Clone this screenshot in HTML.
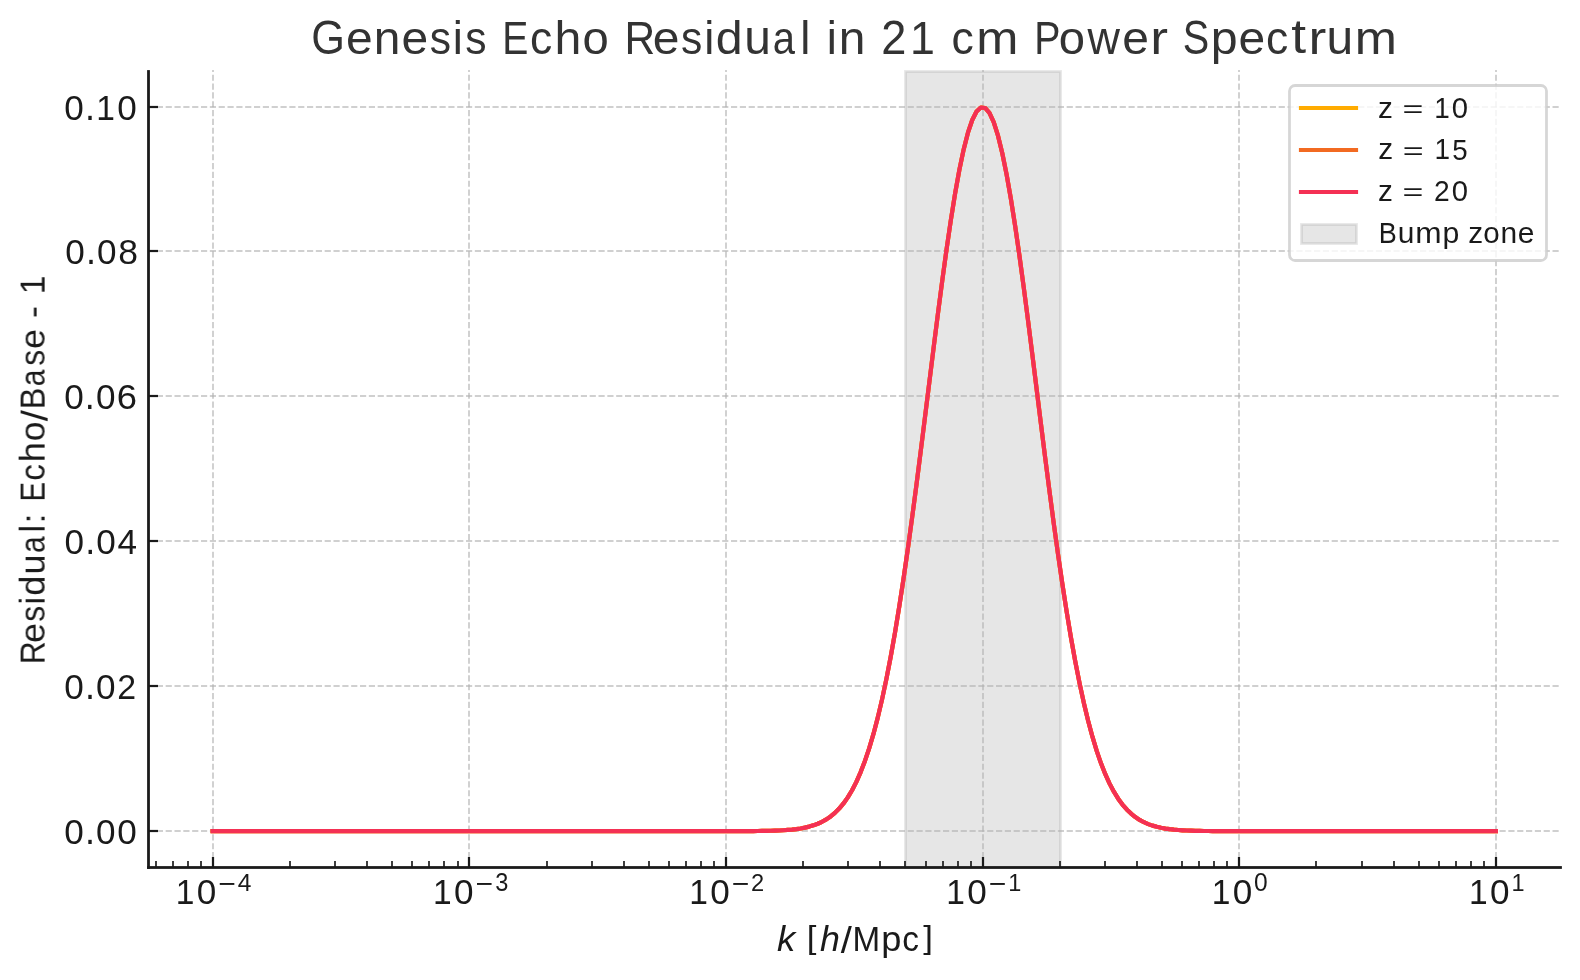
<!DOCTYPE html>
<html><head><meta charset="utf-8"><title>Genesis Echo Residual in 21 cm Power Spectrum</title>
<style>
html,body{margin:0;padding:0;background:#ffffff;width:1580px;height:980px;overflow:hidden}
svg{display:block}
text{font-family:"Liberation Sans",sans-serif}
</style></head><body>
<svg width="1580" height="980" viewBox="0 0 1580 980">
<rect width="1580" height="980" fill="#ffffff"/>
<rect x="905.5" y="71.5" width="155" height="796" fill="#808080" fill-opacity="0.2" stroke="#808080" stroke-opacity="0.2" stroke-width="2.78"/>
<path d="M213 867V70M469 867V70M726 867V70M983 867V70M1239 867V70M1496 867V70" fill="none" stroke="#b0b0b0" stroke-opacity="0.7" stroke-width="1.67" stroke-dasharray="6.1667 2.6667"/>
<path d="M148 831H1560M148 686H1560M148 541H1560M148 396H1560M148 251H1560M148 107H1560" fill="none" stroke="#b0b0b0" stroke-opacity="0.8" stroke-width="1.67" stroke-dasharray="6.1667 2.6667"/>
<path d="M211.889 857h2.222v10h-2.222zM467.889 857h2.222v10h-2.222zM724.889 857h2.222v10h-2.222zM981.889 857h2.222v10h-2.222zM1237.889 857h2.222v10h-2.222zM1494.889 857h2.222v10h-2.222zM148 830h10v2h-10zM148 685h10v2h-10zM148 540h10v2h-10zM148 395h10v2h-10zM148 250h10v2h-10zM148 106h10v2h-10z" fill="#1a1a1a"/>
<path d="M148 829h10v1h-10zM148 832h10v1h-10zM148 684h10v1h-10zM148 687h10v1h-10zM148 539h10v1h-10zM148 542h10v1h-10zM148 394h10v1h-10zM148 397h10v1h-10zM148 249h10v1h-10zM148 252h10v1h-10zM148 105h10v1h-10zM148 108h10v1h-10z" fill="#1a1a1a" fill-opacity="0.11"/>
<path d="M155.167 861h1.667v6h-1.667zM172.167 861h1.667v6h-1.667zM187.167 861h1.667v6h-1.667zM200.167 861h1.667v6h-1.667zM289.167 861h1.667v6h-1.667zM334.167 861h1.667v6h-1.667zM366.167 861h1.667v6h-1.667zM391.167 861h1.667v6h-1.667zM411.167 861h1.667v6h-1.667zM428.167 861h1.667v6h-1.667zM443.167 861h1.667v6h-1.667zM457.167 861h1.667v6h-1.667zM546.167 861h1.667v6h-1.667zM591.167 861h1.667v6h-1.667zM623.167 861h1.667v6h-1.667zM648.167 861h1.667v6h-1.667zM668.167 861h1.667v6h-1.667zM685.167 861h1.667v6h-1.667zM700.167 861h1.667v6h-1.667zM713.167 861h1.667v6h-1.667zM802.167 861h1.667v6h-1.667zM847.167 861h1.667v6h-1.667zM879.167 861h1.667v6h-1.667zM904.167 861h1.667v6h-1.667zM925.167 861h1.667v6h-1.667zM942.167 861h1.667v6h-1.667zM957.167 861h1.667v6h-1.667zM970.167 861h1.667v6h-1.667zM1059.167 861h1.667v6h-1.667zM1104.167 861h1.667v6h-1.667zM1136.167 861h1.667v6h-1.667zM1161.167 861h1.667v6h-1.667zM1181.167 861h1.667v6h-1.667zM1198.167 861h1.667v6h-1.667zM1213.167 861h1.667v6h-1.667zM1226.167 861h1.667v6h-1.667zM1315.167 861h1.667v6h-1.667zM1361.167 861h1.667v6h-1.667zM1393.167 861h1.667v6h-1.667zM1418.167 861h1.667v6h-1.667zM1438.167 861h1.667v6h-1.667zM1455.167 861h1.667v6h-1.667zM1470.167 861h1.667v6h-1.667zM1483.167 861h1.667v6h-1.667z" fill="#1a1a1a"/>
<polyline points="212.60,831.15 216.89,831.15 221.18,831.15 225.48,831.15 229.77,831.15 234.06,831.15 238.35,831.15 242.64,831.15 246.93,831.15 251.23,831.15 255.52,831.15 259.81,831.15 264.10,831.15 268.39,831.15 272.69,831.15 276.98,831.15 281.27,831.15 285.56,831.15 289.85,831.15 294.14,831.15 298.44,831.15 302.73,831.15 307.02,831.15 311.31,831.15 315.60,831.15 319.90,831.15 324.19,831.15 328.48,831.15 332.77,831.15 337.06,831.15 341.35,831.15 345.65,831.15 349.94,831.15 354.23,831.15 358.52,831.15 362.81,831.15 367.11,831.15 371.40,831.15 375.69,831.15 379.98,831.15 384.27,831.15 388.56,831.15 392.86,831.15 397.15,831.15 401.44,831.15 405.73,831.15 410.02,831.15 414.31,831.15 418.61,831.15 422.90,831.15 427.19,831.15 431.48,831.15 435.77,831.15 440.07,831.15 444.36,831.15 448.65,831.15 452.94,831.15 457.23,831.15 461.52,831.15 465.82,831.15 470.11,831.15 474.40,831.15 478.69,831.15 482.98,831.15 487.28,831.15 491.57,831.15 495.86,831.15 500.15,831.15 504.44,831.15 508.73,831.15 513.03,831.15 517.32,831.15 521.61,831.15 525.90,831.15 530.19,831.15 534.49,831.15 538.78,831.15 543.07,831.15 547.36,831.15 551.65,831.15 555.94,831.15 560.24,831.15 564.53,831.15 568.82,831.15 573.11,831.15 577.40,831.15 581.70,831.15 585.99,831.15 590.28,831.15 594.57,831.15 598.86,831.15 603.15,831.15 607.45,831.15 611.74,831.15 616.03,831.15 620.32,831.15 624.61,831.15 628.91,831.15 633.20,831.15 637.49,831.15 641.78,831.15 646.07,831.15 650.36,831.15 654.66,831.15 658.95,831.15 663.24,831.15 667.53,831.15 671.82,831.15 676.12,831.15 680.41,831.15 684.70,831.15 688.99,831.15 693.28,831.15 697.57,831.15 701.87,831.15 706.16,831.15 710.45,831.15 714.74,831.15 719.03,831.14 723.32,831.14 727.62,831.14 731.91,831.13 736.20,831.12 740.49,831.11 744.78,831.10 749.08,831.08 753.37,831.05 757.66,831.01 761.95,830.95 766.24,830.88 770.53,830.78 774.83,830.65 779.12,830.48 783.41,830.25 787.70,829.95 791.99,829.57 796.29,829.07 800.58,828.44 804.87,827.63 809.16,826.61 813.45,825.34 817.74,823.75 822.04,821.78 826.33,819.37 830.62,816.42 834.91,812.85 839.20,808.56 843.50,803.43 847.79,797.35 852.08,790.20 856.37,781.83 860.66,772.12 864.95,760.95 869.25,748.17 873.54,733.67 877.83,717.36 882.12,699.13 886.41,678.93 890.71,656.74 895.00,632.54 899.29,606.39 903.58,578.37 907.87,548.62 912.16,517.32 916.46,484.72 920.75,451.10 925.04,416.80 929.33,382.21 933.62,347.74 937.92,313.85 942.21,281.01 946.50,249.72 950.79,220.46 955.08,193.69 959.37,169.88 963.67,149.43 967.96,132.70 972.25,120.00 976.54,111.55 980.83,107.51 985.13,107.96 989.42,112.89 993.71,122.20 998.00,135.73 1002.29,153.23 1006.58,174.39 1010.88,198.82 1015.17,226.12 1019.46,255.83 1023.75,287.47 1028.04,320.56 1032.33,354.60 1036.63,389.13 1040.92,423.70 1045.21,457.89 1049.50,491.33 1053.79,523.69 1058.09,554.70 1062.38,584.11 1066.67,611.77 1070.96,637.54 1075.25,661.34 1079.54,683.13 1083.84,702.93 1088.13,720.77 1092.42,736.72 1096.71,750.86 1101.00,763.31 1105.30,774.18 1109.59,783.61 1113.88,791.72 1118.17,798.65 1122.46,804.53 1126.75,809.48 1131.05,813.62 1135.34,817.06 1139.63,819.89 1143.92,822.21 1148.21,824.09 1152.51,825.62 1156.80,826.84 1161.09,827.81 1165.38,828.58 1169.67,829.18 1173.96,829.65 1178.26,830.02 1182.55,830.30 1186.84,830.52 1191.13,830.68 1195.42,830.80 1199.72,830.90 1204.01,830.97 1208.30,831.02 1212.59,831.05 1216.88,831.08 1221.17,831.10 1225.47,831.12 1229.76,831.13 1234.05,831.13 1238.34,831.14 1242.63,831.14 1246.93,831.14 1251.22,831.15 1255.51,831.15 1259.80,831.15 1264.09,831.15 1268.38,831.15 1272.68,831.15 1276.97,831.15 1281.26,831.15 1285.55,831.15 1289.84,831.15 1294.14,831.15 1298.43,831.15 1302.72,831.15 1307.01,831.15 1311.30,831.15 1315.59,831.15 1319.89,831.15 1324.18,831.15 1328.47,831.15 1332.76,831.15 1337.05,831.15 1341.34,831.15 1345.64,831.15 1349.93,831.15 1354.22,831.15 1358.51,831.15 1362.80,831.15 1367.10,831.15 1371.39,831.15 1375.68,831.15 1379.97,831.15 1384.26,831.15 1388.55,831.15 1392.85,831.15 1397.14,831.15 1401.43,831.15 1405.72,831.15 1410.01,831.15 1414.31,831.15 1418.60,831.15 1422.89,831.15 1427.18,831.15 1431.47,831.15 1435.76,831.15 1440.06,831.15 1444.35,831.15 1448.64,831.15 1452.93,831.15 1457.22,831.15 1461.52,831.15 1465.81,831.15 1470.10,831.15 1474.39,831.15 1478.68,831.15 1482.97,831.15 1487.27,831.15 1491.56,831.15 1495.85,831.15" fill="none" stroke="#ffab00" stroke-width="4.17" stroke-linecap="square" stroke-linejoin="round"/>
<polyline points="212.60,831.15 216.89,831.15 221.18,831.15 225.48,831.15 229.77,831.15 234.06,831.15 238.35,831.15 242.64,831.15 246.93,831.15 251.23,831.15 255.52,831.15 259.81,831.15 264.10,831.15 268.39,831.15 272.69,831.15 276.98,831.15 281.27,831.15 285.56,831.15 289.85,831.15 294.14,831.15 298.44,831.15 302.73,831.15 307.02,831.15 311.31,831.15 315.60,831.15 319.90,831.15 324.19,831.15 328.48,831.15 332.77,831.15 337.06,831.15 341.35,831.15 345.65,831.15 349.94,831.15 354.23,831.15 358.52,831.15 362.81,831.15 367.11,831.15 371.40,831.15 375.69,831.15 379.98,831.15 384.27,831.15 388.56,831.15 392.86,831.15 397.15,831.15 401.44,831.15 405.73,831.15 410.02,831.15 414.31,831.15 418.61,831.15 422.90,831.15 427.19,831.15 431.48,831.15 435.77,831.15 440.07,831.15 444.36,831.15 448.65,831.15 452.94,831.15 457.23,831.15 461.52,831.15 465.82,831.15 470.11,831.15 474.40,831.15 478.69,831.15 482.98,831.15 487.28,831.15 491.57,831.15 495.86,831.15 500.15,831.15 504.44,831.15 508.73,831.15 513.03,831.15 517.32,831.15 521.61,831.15 525.90,831.15 530.19,831.15 534.49,831.15 538.78,831.15 543.07,831.15 547.36,831.15 551.65,831.15 555.94,831.15 560.24,831.15 564.53,831.15 568.82,831.15 573.11,831.15 577.40,831.15 581.70,831.15 585.99,831.15 590.28,831.15 594.57,831.15 598.86,831.15 603.15,831.15 607.45,831.15 611.74,831.15 616.03,831.15 620.32,831.15 624.61,831.15 628.91,831.15 633.20,831.15 637.49,831.15 641.78,831.15 646.07,831.15 650.36,831.15 654.66,831.15 658.95,831.15 663.24,831.15 667.53,831.15 671.82,831.15 676.12,831.15 680.41,831.15 684.70,831.15 688.99,831.15 693.28,831.15 697.57,831.15 701.87,831.15 706.16,831.15 710.45,831.15 714.74,831.15 719.03,831.14 723.32,831.14 727.62,831.14 731.91,831.13 736.20,831.12 740.49,831.11 744.78,831.10 749.08,831.08 753.37,831.05 757.66,831.01 761.95,830.95 766.24,830.88 770.53,830.78 774.83,830.65 779.12,830.48 783.41,830.25 787.70,829.95 791.99,829.57 796.29,829.07 800.58,828.44 804.87,827.63 809.16,826.61 813.45,825.34 817.74,823.75 822.04,821.78 826.33,819.37 830.62,816.42 834.91,812.85 839.20,808.56 843.50,803.43 847.79,797.35 852.08,790.20 856.37,781.83 860.66,772.12 864.95,760.95 869.25,748.17 873.54,733.67 877.83,717.36 882.12,699.13 886.41,678.93 890.71,656.74 895.00,632.54 899.29,606.39 903.58,578.37 907.87,548.62 912.16,517.32 916.46,484.72 920.75,451.10 925.04,416.80 929.33,382.21 933.62,347.74 937.92,313.85 942.21,281.01 946.50,249.72 950.79,220.46 955.08,193.69 959.37,169.88 963.67,149.43 967.96,132.70 972.25,120.00 976.54,111.55 980.83,107.51 985.13,107.96 989.42,112.89 993.71,122.20 998.00,135.73 1002.29,153.23 1006.58,174.39 1010.88,198.82 1015.17,226.12 1019.46,255.83 1023.75,287.47 1028.04,320.56 1032.33,354.60 1036.63,389.13 1040.92,423.70 1045.21,457.89 1049.50,491.33 1053.79,523.69 1058.09,554.70 1062.38,584.11 1066.67,611.77 1070.96,637.54 1075.25,661.34 1079.54,683.13 1083.84,702.93 1088.13,720.77 1092.42,736.72 1096.71,750.86 1101.00,763.31 1105.30,774.18 1109.59,783.61 1113.88,791.72 1118.17,798.65 1122.46,804.53 1126.75,809.48 1131.05,813.62 1135.34,817.06 1139.63,819.89 1143.92,822.21 1148.21,824.09 1152.51,825.62 1156.80,826.84 1161.09,827.81 1165.38,828.58 1169.67,829.18 1173.96,829.65 1178.26,830.02 1182.55,830.30 1186.84,830.52 1191.13,830.68 1195.42,830.80 1199.72,830.90 1204.01,830.97 1208.30,831.02 1212.59,831.05 1216.88,831.08 1221.17,831.10 1225.47,831.12 1229.76,831.13 1234.05,831.13 1238.34,831.14 1242.63,831.14 1246.93,831.14 1251.22,831.15 1255.51,831.15 1259.80,831.15 1264.09,831.15 1268.38,831.15 1272.68,831.15 1276.97,831.15 1281.26,831.15 1285.55,831.15 1289.84,831.15 1294.14,831.15 1298.43,831.15 1302.72,831.15 1307.01,831.15 1311.30,831.15 1315.59,831.15 1319.89,831.15 1324.18,831.15 1328.47,831.15 1332.76,831.15 1337.05,831.15 1341.34,831.15 1345.64,831.15 1349.93,831.15 1354.22,831.15 1358.51,831.15 1362.80,831.15 1367.10,831.15 1371.39,831.15 1375.68,831.15 1379.97,831.15 1384.26,831.15 1388.55,831.15 1392.85,831.15 1397.14,831.15 1401.43,831.15 1405.72,831.15 1410.01,831.15 1414.31,831.15 1418.60,831.15 1422.89,831.15 1427.18,831.15 1431.47,831.15 1435.76,831.15 1440.06,831.15 1444.35,831.15 1448.64,831.15 1452.93,831.15 1457.22,831.15 1461.52,831.15 1465.81,831.15 1470.10,831.15 1474.39,831.15 1478.68,831.15 1482.97,831.15 1487.27,831.15 1491.56,831.15 1495.85,831.15" fill="none" stroke="#f26a21" stroke-width="4.17" stroke-linecap="square" stroke-linejoin="round"/>
<polyline points="212.60,831.15 216.89,831.15 221.18,831.15 225.48,831.15 229.77,831.15 234.06,831.15 238.35,831.15 242.64,831.15 246.93,831.15 251.23,831.15 255.52,831.15 259.81,831.15 264.10,831.15 268.39,831.15 272.69,831.15 276.98,831.15 281.27,831.15 285.56,831.15 289.85,831.15 294.14,831.15 298.44,831.15 302.73,831.15 307.02,831.15 311.31,831.15 315.60,831.15 319.90,831.15 324.19,831.15 328.48,831.15 332.77,831.15 337.06,831.15 341.35,831.15 345.65,831.15 349.94,831.15 354.23,831.15 358.52,831.15 362.81,831.15 367.11,831.15 371.40,831.15 375.69,831.15 379.98,831.15 384.27,831.15 388.56,831.15 392.86,831.15 397.15,831.15 401.44,831.15 405.73,831.15 410.02,831.15 414.31,831.15 418.61,831.15 422.90,831.15 427.19,831.15 431.48,831.15 435.77,831.15 440.07,831.15 444.36,831.15 448.65,831.15 452.94,831.15 457.23,831.15 461.52,831.15 465.82,831.15 470.11,831.15 474.40,831.15 478.69,831.15 482.98,831.15 487.28,831.15 491.57,831.15 495.86,831.15 500.15,831.15 504.44,831.15 508.73,831.15 513.03,831.15 517.32,831.15 521.61,831.15 525.90,831.15 530.19,831.15 534.49,831.15 538.78,831.15 543.07,831.15 547.36,831.15 551.65,831.15 555.94,831.15 560.24,831.15 564.53,831.15 568.82,831.15 573.11,831.15 577.40,831.15 581.70,831.15 585.99,831.15 590.28,831.15 594.57,831.15 598.86,831.15 603.15,831.15 607.45,831.15 611.74,831.15 616.03,831.15 620.32,831.15 624.61,831.15 628.91,831.15 633.20,831.15 637.49,831.15 641.78,831.15 646.07,831.15 650.36,831.15 654.66,831.15 658.95,831.15 663.24,831.15 667.53,831.15 671.82,831.15 676.12,831.15 680.41,831.15 684.70,831.15 688.99,831.15 693.28,831.15 697.57,831.15 701.87,831.15 706.16,831.15 710.45,831.15 714.74,831.15 719.03,831.14 723.32,831.14 727.62,831.14 731.91,831.13 736.20,831.12 740.49,831.11 744.78,831.10 749.08,831.08 753.37,831.05 757.66,831.01 761.95,830.95 766.24,830.88 770.53,830.78 774.83,830.65 779.12,830.48 783.41,830.25 787.70,829.95 791.99,829.57 796.29,829.07 800.58,828.44 804.87,827.63 809.16,826.61 813.45,825.34 817.74,823.75 822.04,821.78 826.33,819.37 830.62,816.42 834.91,812.85 839.20,808.56 843.50,803.43 847.79,797.35 852.08,790.20 856.37,781.83 860.66,772.12 864.95,760.95 869.25,748.17 873.54,733.67 877.83,717.36 882.12,699.13 886.41,678.93 890.71,656.74 895.00,632.54 899.29,606.39 903.58,578.37 907.87,548.62 912.16,517.32 916.46,484.72 920.75,451.10 925.04,416.80 929.33,382.21 933.62,347.74 937.92,313.85 942.21,281.01 946.50,249.72 950.79,220.46 955.08,193.69 959.37,169.88 963.67,149.43 967.96,132.70 972.25,120.00 976.54,111.55 980.83,107.51 985.13,107.96 989.42,112.89 993.71,122.20 998.00,135.73 1002.29,153.23 1006.58,174.39 1010.88,198.82 1015.17,226.12 1019.46,255.83 1023.75,287.47 1028.04,320.56 1032.33,354.60 1036.63,389.13 1040.92,423.70 1045.21,457.89 1049.50,491.33 1053.79,523.69 1058.09,554.70 1062.38,584.11 1066.67,611.77 1070.96,637.54 1075.25,661.34 1079.54,683.13 1083.84,702.93 1088.13,720.77 1092.42,736.72 1096.71,750.86 1101.00,763.31 1105.30,774.18 1109.59,783.61 1113.88,791.72 1118.17,798.65 1122.46,804.53 1126.75,809.48 1131.05,813.62 1135.34,817.06 1139.63,819.89 1143.92,822.21 1148.21,824.09 1152.51,825.62 1156.80,826.84 1161.09,827.81 1165.38,828.58 1169.67,829.18 1173.96,829.65 1178.26,830.02 1182.55,830.30 1186.84,830.52 1191.13,830.68 1195.42,830.80 1199.72,830.90 1204.01,830.97 1208.30,831.02 1212.59,831.05 1216.88,831.08 1221.17,831.10 1225.47,831.12 1229.76,831.13 1234.05,831.13 1238.34,831.14 1242.63,831.14 1246.93,831.14 1251.22,831.15 1255.51,831.15 1259.80,831.15 1264.09,831.15 1268.38,831.15 1272.68,831.15 1276.97,831.15 1281.26,831.15 1285.55,831.15 1289.84,831.15 1294.14,831.15 1298.43,831.15 1302.72,831.15 1307.01,831.15 1311.30,831.15 1315.59,831.15 1319.89,831.15 1324.18,831.15 1328.47,831.15 1332.76,831.15 1337.05,831.15 1341.34,831.15 1345.64,831.15 1349.93,831.15 1354.22,831.15 1358.51,831.15 1362.80,831.15 1367.10,831.15 1371.39,831.15 1375.68,831.15 1379.97,831.15 1384.26,831.15 1388.55,831.15 1392.85,831.15 1397.14,831.15 1401.43,831.15 1405.72,831.15 1410.01,831.15 1414.31,831.15 1418.60,831.15 1422.89,831.15 1427.18,831.15 1431.47,831.15 1435.76,831.15 1440.06,831.15 1444.35,831.15 1448.64,831.15 1452.93,831.15 1457.22,831.15 1461.52,831.15 1465.81,831.15 1470.10,831.15 1474.39,831.15 1478.68,831.15 1482.97,831.15 1487.27,831.15 1491.56,831.15 1495.85,831.15" fill="none" stroke="#f43054" stroke-width="4.17" stroke-linecap="square" stroke-linejoin="round"/>
<rect x="147.11" y="70.11" width="2.78" height="798.78" fill="#1a1a1a"/>
<rect x="147.11" y="866.11" width="1414.78" height="2.78" fill="#1a1a1a"/>
<rect x="1289.5" y="85.5" width="257" height="175" rx="5.56" ry="5.56" fill="#ffffff" fill-opacity="0.8" stroke="#cccccc" stroke-opacity="0.8" stroke-width="2.78"/>
<path d="M1301 108H1356" stroke="#ffab00" stroke-width="4.17" stroke-linecap="square"/>
<path d="M1301 150H1356" stroke="#f26a21" stroke-width="4.17" stroke-linecap="square"/>
<path d="M1301 192H1356" stroke="#f43054" stroke-width="4.17" stroke-linecap="square"/>
<rect x="1301.5" y="224.5" width="55" height="19" fill="#808080" fill-opacity="0.2" stroke="#808080" stroke-opacity="0.2" stroke-width="2.78"/>
<g opacity="0.999">
<g transform="translate(311.03 53.76)" font-size="44.44" fill="#333333" aria-label="Genesis Echo Residual in 21 cm Power Spectrum"><text transform="matrix(0.975 0 0 1.068 0.32 0.17)">G</text><text transform="matrix(1.080 0 0 1.048 34.90 0.17)">e</text><text transform="matrix(1.078 0 0 1.041 62.72 0.00)">n</text><text transform="matrix(1.080 0 0 1.048 90.48 0.17)">e</text><text transform="matrix(0.959 0 0 1.051 118.67 0.17)">s</text><text transform="matrix(1.022 0 0 1.049 141.78 0.00)">i</text><text transform="matrix(0.959 0 0 1.051 154.21 0.17)">s</text><text transform="matrix(0.880 0 0 1.060 191.31 0.00)">E</text><text transform="matrix(1.003 0 0 1.048 218.99 0.17)">c</text><text transform="matrix(1.086 0 0 1.049 243.59 0.00)">h</text><text transform="matrix(1.063 0 0 1.048 271.57 0.17)">o</text><text transform="matrix(0.956 0 0 1.060 313.35 0.00)">R</text><text transform="matrix(1.080 0 0 1.048 341.81 0.17)">e</text><text transform="matrix(0.959 0 0 1.051 370.00 0.17)">s</text><text transform="matrix(1.022 0 0 1.049 393.11 0.00)">i</text><text transform="matrix(1.087 0 0 1.054 404.75 0.17)">d</text><text transform="matrix(1.078 0 0 1.067 433.23 0.17)">u</text><text transform="matrix(0.899 0 0 1.048 461.75 0.17)">a</text><text transform="matrix(1.022 0 0 1.049 489.17 0.00)">l</text><text transform="matrix(1.022 0 0 1.049 515.70 0.00)">i</text><text transform="matrix(1.078 0 0 1.041 527.77 0.00)">n</text><text transform="matrix(1.016 0 0 1.063 570.25 0.00)">2</text><text transform="matrix(1.007 0 0 1.060 599.05 0.00)">1</text><text transform="matrix(1.003 0 0 1.048 640.59 0.17)">c</text><text transform="matrix(1.139 0 0 1.041 665.17 0.00)">m</text><text transform="matrix(0.884 0 0 1.060 723.13 0.00)">P</text><text transform="matrix(1.063 0 0 1.048 747.67 0.17)">o</text><text transform="matrix(1.011 0 0 1.035 776.36 -0.00)">w</text><text transform="matrix(1.080 0 0 1.048 811.24 0.17)">e</text><text transform="matrix(1.200 0 0 1.041 839.15 0.00)">r</text><text transform="matrix(0.891 0 0 1.068 871.77 0.17)">S</text><text transform="matrix(1.088 0 0 1.031 899.81 -0.26)">p</text><text transform="matrix(1.080 0 0 1.048 927.55 0.17)">e</text><text transform="matrix(1.003 0 0 1.048 955.07 0.17)">c</text><text transform="matrix(1.200 0 0 1.073 980.14 -0.37)">t</text><text transform="matrix(1.200 0 0 1.041 997.38 0.00)">r</text><text transform="matrix(1.078 0 0 1.067 1015.39 0.17)">u</text><text transform="matrix(1.139 0 0 1.041 1043.60 0.00)">m</text></g>
<g transform="translate(44.62 664.99) rotate(-90)" font-size="33.33" fill="#1a1a1a" aria-label="Residual: Echo/Base - 1"><text transform="matrix(0.956 0 0 1.060 0.66 0.00)">R</text><text transform="matrix(1.080 0 0 1.048 22.00 0.13)">e</text><text transform="matrix(0.959 0 0 1.051 43.14 0.13)">s</text><text transform="matrix(1.022 0 0 1.049 60.47 0.00)">i</text><text transform="matrix(1.087 0 0 1.054 69.20 0.13)">d</text><text transform="matrix(1.078 0 0 1.067 90.57 0.12)">u</text><text transform="matrix(0.899 0 0 1.048 111.95 0.13)">a</text><text transform="matrix(1.022 0 0 1.049 132.52 0.00)">l</text><text transform="matrix(1.082 0 0 0.979 141.56 0.00)">:</text><text transform="matrix(0.880 0 0 1.060 163.54 0.00)">E</text><text transform="matrix(1.003 0 0 1.048 184.31 0.13)">c</text><text transform="matrix(1.086 0 0 1.049 202.76 0.00)">h</text><text transform="matrix(1.063 0 0 1.048 223.74 0.13)">o</text><text transform="matrix(1.200 0 0 1.119 243.87 2.73)">/</text><text transform="matrix(0.972 0 0 1.060 255.67 0.00)">B</text><text transform="matrix(0.899 0 0 1.048 278.68 0.13)">a</text><text transform="matrix(0.959 0 0 1.051 299.32 0.13)">s</text><text transform="matrix(1.080 0 0 1.048 316.10 0.13)">e</text><text transform="matrix(1.078 0 0 1.025 346.96 -0.06)">-</text><text transform="matrix(1.007 0 0 1.060 370.69 0.00)">1</text></g>
<g transform="translate(776.50 951.62)" font-size="33.33" fill="#1a1a1a" aria-label="k [h/Mpc]"><text transform="matrix(1.098 0 0 1.049 0.56 -0.92)" font-style="italic">k</text><text transform="matrix(1.042 0 0 0.957 30.33 -3.14)">[</text><text transform="matrix(1.075 0 0 1.049 43.53 -0.92)" font-style="italic">h</text><text transform="matrix(1.200 0 0 1.119 64.17 1.81)">/</text><text transform="matrix(0.997 0 0 1.060 75.90 -0.92)">M</text><text transform="matrix(1.088 0 0 1.031 104.84 -1.12)">p</text><text transform="matrix(1.003 0 0 1.048 125.75 -0.79)">c</text><text transform="matrix(1.042 0 0 0.957 146.65 -3.14)">]</text></g>
<g transform="translate(1377.93 117.61)" font-size="27.78" fill="#1a1a1a" aria-label="z = 10"><text transform="matrix(1.072 0 0 1.035 -0.01 -0.00)">z</text><text transform="matrix(1.288 0 0 0.876 24.58 -0.69)">=</text><text transform="matrix(1.007 0 0 1.060 56.38 0.00)">1</text><text transform="matrix(1.054 0 0 1.068 73.80 0.10)">0</text></g>
<g transform="translate(1378.22 159.43)" font-size="27.78" fill="#1a1a1a" aria-label="z = 15"><text transform="matrix(1.072 0 0 1.035 -0.01 -0.00)">z</text><text transform="matrix(1.288 0 0 0.876 24.58 -0.69)">=</text><text transform="matrix(1.007 0 0 1.060 56.38 0.00)">1</text><text transform="matrix(0.995 0 0 1.065 74.15 0.10)">5</text></g>
<g transform="translate(1377.93 200.61)" font-size="27.78" fill="#1a1a1a" aria-label="z = 20"><text transform="matrix(1.072 0 0 1.035 -0.01 -0.00)">z</text><text transform="matrix(1.288 0 0 0.876 24.58 -0.69)">=</text><text transform="matrix(1.016 0 0 1.063 56.07 0.00)">2</text><text transform="matrix(1.054 0 0 1.068 73.80 0.10)">0</text></g>
<g transform="translate(1378.22 242.74)" font-size="27.78" fill="#1a1a1a" aria-label="Bump zone"><text transform="matrix(0.972 0 0 1.060 0.51 0.00)">B</text><text transform="matrix(1.078 0 0 1.067 19.45 0.10)">u</text><text transform="matrix(1.139 0 0 1.041 37.05 -0.00)">m</text><text transform="matrix(1.088 0 0 1.031 64.23 -0.16)">p</text><text transform="matrix(1.072 0 0 1.035 90.08 -0.00)">z</text><text transform="matrix(1.063 0 0 1.048 104.95 0.11)">o</text><text transform="matrix(1.078 0 0 1.041 122.17 -0.00)">n</text><text transform="matrix(1.080 0 0 1.048 139.48 0.11)">e</text></g>
<g transform="translate(63.37 843.63)" font-size="33.33" fill="#1a1a1a" aria-label="0.00"><text transform="matrix(1.054 0 0 1.068 0.82 0.12)">0</text><text transform="matrix(1.082 0 0 1.160 21.51 0.00)">.</text><text transform="matrix(1.054 0 0 1.068 32.67 0.12)">0</text><text transform="matrix(1.054 0 0 1.068 53.90 0.12)">0</text></g>
<g transform="translate(63.43 698.63)" font-size="33.33" fill="#1a1a1a" aria-label="0.02"><text transform="matrix(1.054 0 0 1.068 0.82 0.12)">0</text><text transform="matrix(1.082 0 0 1.160 21.51 0.00)">.</text><text transform="matrix(1.054 0 0 1.068 32.67 0.12)">0</text><text transform="matrix(1.016 0 0 1.063 53.82 0.00)">2</text></g>
<g transform="translate(63.69 553.63)" font-size="33.33" fill="#1a1a1a" aria-label="0.04"><text transform="matrix(1.054 0 0 1.068 0.82 0.12)">0</text><text transform="matrix(1.082 0 0 1.160 21.51 0.00)">.</text><text transform="matrix(1.054 0 0 1.068 32.67 0.12)">0</text><text transform="matrix(1.054 0 0 1.060 53.90 0.00)">4</text></g>
<g transform="translate(63.31 408.63)" font-size="33.33" fill="#1a1a1a" aria-label="0.06"><text transform="matrix(1.054 0 0 1.068 0.82 0.12)">0</text><text transform="matrix(1.082 0 0 1.160 21.51 0.00)">.</text><text transform="matrix(1.054 0 0 1.068 32.67 0.12)">0</text><text transform="matrix(1.091 0 0 1.068 53.56 0.12)">6</text></g>
<g transform="translate(64.40 263.63)" font-size="33.33" fill="#1a1a1a" aria-label="0.08"><text transform="matrix(1.054 0 0 1.068 0.82 0.12)">0</text><text transform="matrix(1.082 0 0 1.160 21.51 0.00)">.</text><text transform="matrix(1.054 0 0 1.068 32.67 0.12)">0</text><text transform="matrix(1.066 0 0 1.068 53.80 0.12)">8</text></g>
<g transform="translate(63.37 119.63)" font-size="33.33" fill="#1a1a1a" aria-label="0.10"><text transform="matrix(1.054 0 0 1.068 0.82 0.12)">0</text><text transform="matrix(1.082 0 0 1.160 21.51 0.00)">.</text><text transform="matrix(1.007 0 0 1.060 32.95 0.00)">1</text><text transform="matrix(1.054 0 0 1.068 53.90 0.12)">0</text></g>
<g transform="translate(174.72 904.11)" font-size="33.33" fill="#1a1a1a" aria-label="10^-4"><text transform="matrix(1.007 0 0 1.060 1.11 -0.52)">1</text><text transform="matrix(1.054 0 0 1.068 22.06 -0.40)">0</text><text transform="matrix(1.288 0 0 1.164 43.77 -11.44)" font-size="23.33">−</text><text transform="matrix(1.054 0 0 1.060 62.93 -13.16)" font-size="23.33">4</text></g>
<g transform="translate(432.00 903.96)" font-size="33.33" fill="#1a1a1a" aria-label="10^-3"><text transform="matrix(1.007 0 0 1.060 1.11 -0.22)">1</text><text transform="matrix(1.054 0 0 1.068 22.06 -0.09)">0</text><text transform="matrix(1.288 0 0 1.164 43.77 -11.13)" font-size="23.33">−</text><text transform="matrix(1.012 0 0 1.068 63.24 -12.76)" font-size="23.33">3</text></g>
<g transform="translate(688.23 903.96)" font-size="33.33" fill="#1a1a1a" aria-label="10^-2"><text transform="matrix(1.007 0 0 1.060 1.11 -0.22)">1</text><text transform="matrix(1.054 0 0 1.068 22.06 -0.09)">0</text><text transform="matrix(1.288 0 0 1.164 43.77 -11.13)" font-size="23.33">−</text><text transform="matrix(1.016 0 0 1.063 62.88 -12.85)" font-size="23.33">2</text></g>
<g transform="translate(945.14 904.11)" font-size="33.33" fill="#1a1a1a" aria-label="10^-1"><text transform="matrix(1.007 0 0 1.060 1.11 -0.52)">1</text><text transform="matrix(1.054 0 0 1.068 22.06 -0.40)">0</text><text transform="matrix(1.288 0 0 1.164 43.77 -11.44)" font-size="23.33">−</text><text transform="matrix(1.007 0 0 1.060 63.13 -13.16)" font-size="23.33">1</text></g>
<g transform="translate(1210.63 903.96)" font-size="33.33" fill="#1a1a1a" aria-label="10^0"><text transform="matrix(1.007 0 0 1.060 1.11 -0.22)">1</text><text transform="matrix(1.054 0 0 1.068 22.06 -0.09)">0</text><text transform="matrix(1.054 0 0 1.068 43.36 -12.76)" font-size="23.33">0</text></g>
<g transform="translate(1467.93 904.11)" font-size="33.33" fill="#1a1a1a" aria-label="10^1"><text transform="matrix(1.007 0 0 1.060 1.11 -0.52)">1</text><text transform="matrix(1.054 0 0 1.068 22.06 -0.40)">0</text><text transform="matrix(1.007 0 0 1.060 43.56 -13.16)" font-size="23.33">1</text></g>
</g>
</svg>
</body></html>
